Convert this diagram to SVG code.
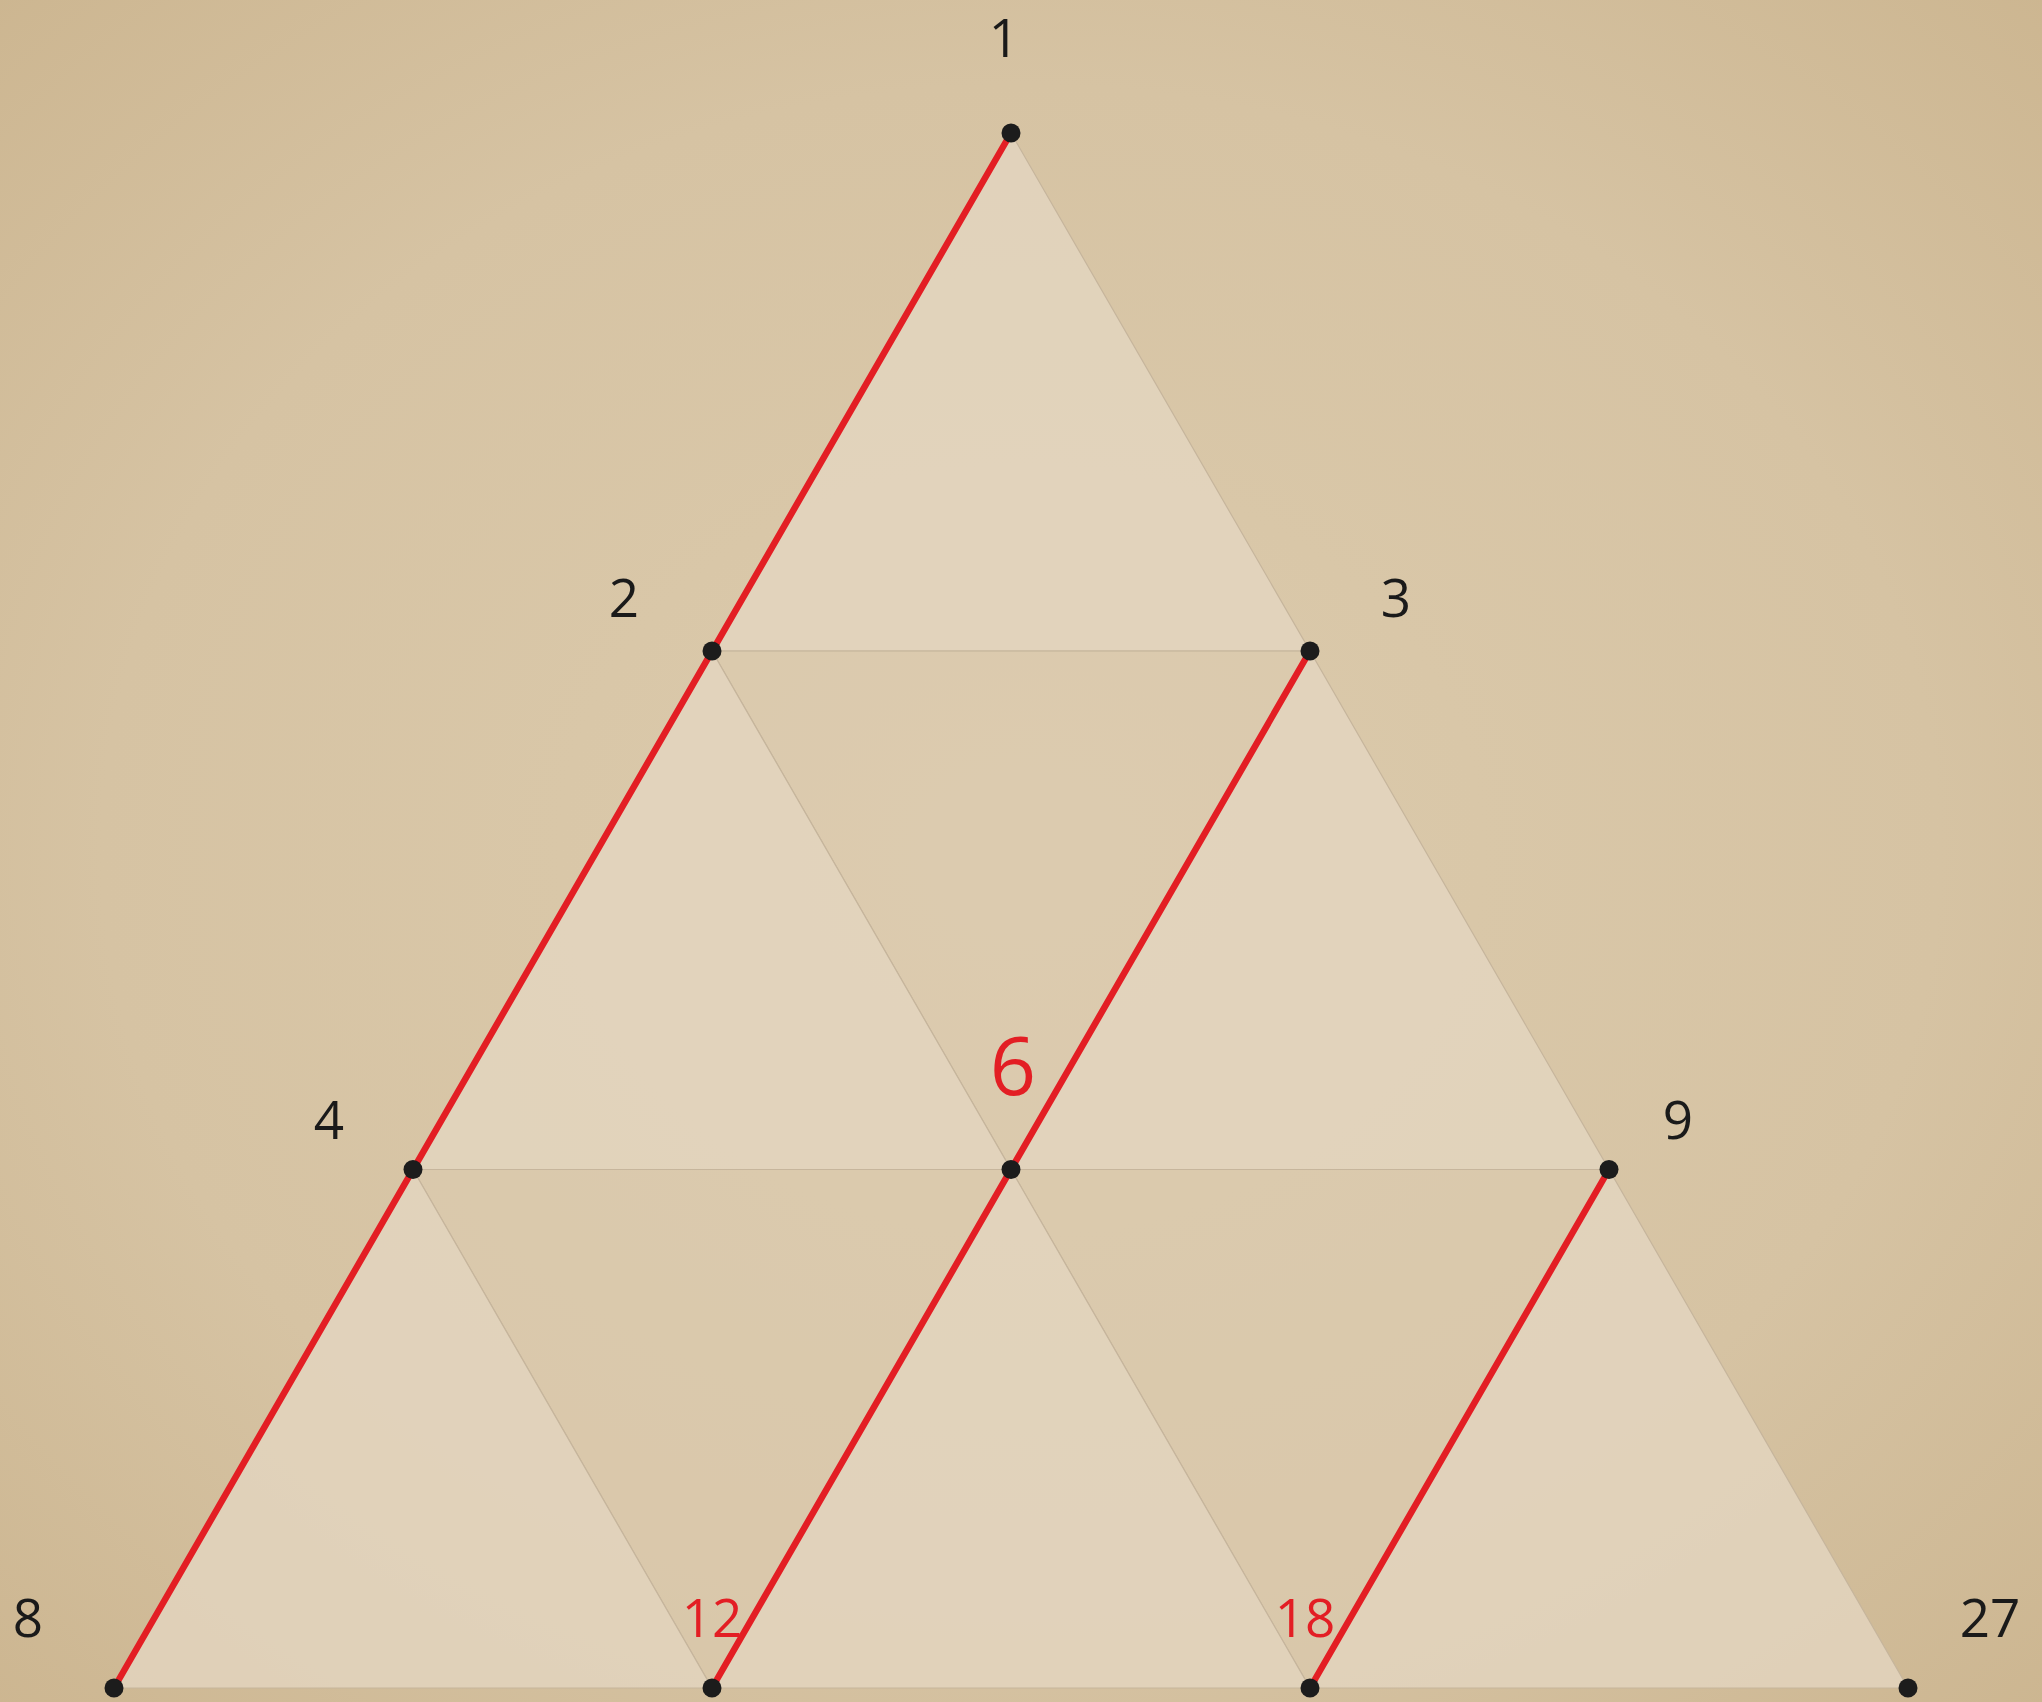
<svg xmlns="http://www.w3.org/2000/svg" width="2042" height="1702" viewBox="0 0 2042 1702">
  <defs>
    <radialGradient id="bg" cx="50%" cy="50%" r="75%">
      <stop offset="0" stop-color="#dccbad"/>
      <stop offset="0.6" stop-color="#d6c3a3"/>
      <stop offset="1" stop-color="#cbb48e"/>
    </radialGradient>
    <style>
      .up { fill: #e3d6c0; fill-opacity: 0.8; stroke: #c6b59c; stroke-width: 1.2; }
      .down { fill: #dccbb1; fill-opacity: 0.6; stroke: #c6b59c; stroke-width: 1.2; }
      .red { stroke: #e31e24; stroke-width: 6.5; stroke-linecap: round; fill: none; }
      .dot { fill: #1c1c1c; }
      .lbl { font-family: "Open Sans", "Noto Sans", "Liberation Sans", sans-serif; font-size: 53px; fill: #1a1a1a; text-anchor: middle; }
      .rlbl { fill: #e31e24; }
      .big { font-size: 81px; }
    </style>
  </defs>
  <rect x="0" y="0" width="2042" height="1702" fill="url(#bg)"/>

  <g id="triangles">
    <polygon class="up" points="1011,133 712,651 1310,651"/>
    <polygon class="down" points="712,651 1310,651 1011,1169.5"/>
    <polygon class="up" points="712,651 413,1169.5 1011,1169.5"/>
    <polygon class="up" points="1310,651 1011,1169.5 1609,1169.5"/>
    <polygon class="down" points="413,1169.5 1011,1169.5 712,1688"/>
    <polygon class="down" points="1011,1169.5 1609,1169.5 1310,1688"/>
    <polygon class="up" points="413,1169.5 114,1688 712,1688"/>
    <polygon class="up" points="1011,1169.5 712,1688 1310,1688"/>
    <polygon class="up" points="1609,1169.5 1310,1688 1908,1688"/>
  </g>

  <g id="connectors">
    <line class="red" x1="1011" y1="133" x2="114" y2="1688"/>
    <line class="red" x1="1310" y1="651" x2="712" y2="1688"/>
    <line class="red" x1="1609" y1="1169.5" x2="1310" y2="1688"/>
  </g>

  <g id="n1"><circle class="dot" cx="1011" cy="133" r="9.5"/><text class="lbl" x="1004" y="57">1</text></g>
  <g id="n2"><circle class="dot" cx="712" cy="651" r="9.5"/><text class="lbl" x="624" y="617">2</text></g>
  <g id="n3"><circle class="dot" cx="1310" cy="651" r="9.5"/><text class="lbl" x="1396" y="617">3</text></g>
  <g id="n4"><circle class="dot" cx="413" cy="1169.5" r="9.5"/><text class="lbl" x="329" y="1139">4</text></g>
  <g id="n6"><circle class="dot" cx="1011" cy="1169.5" r="9.5"/><text class="lbl rlbl big" x="1013" y="1095">6</text></g>
  <g id="n9"><circle class="dot" cx="1609" cy="1169.5" r="9.5"/><text class="lbl" x="1678" y="1139">9</text></g>
  <g id="n8"><circle class="dot" cx="114" cy="1688" r="9.5"/><text class="lbl" x="28" y="1637">8</text></g>
  <g id="n12"><circle class="dot" cx="712" cy="1688" r="9.5"/><text class="lbl rlbl" x="712" y="1637">12</text></g>
  <g id="n18"><circle class="dot" cx="1310" cy="1688" r="9.5"/><text class="lbl rlbl" x="1305" y="1637">18</text></g>
  <g id="n27"><circle class="dot" cx="1908" cy="1688" r="9.5"/><text class="lbl" x="1990" y="1637">27</text></g>
</svg>
